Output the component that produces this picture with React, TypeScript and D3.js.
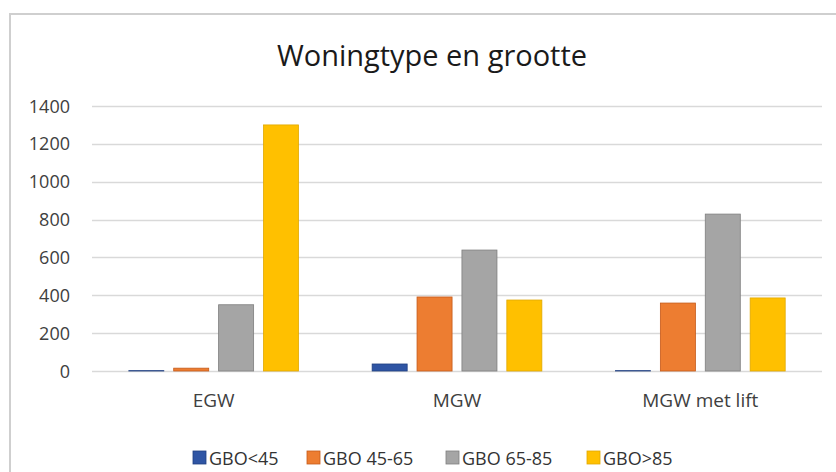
import React, { useEffect, useRef } from "react";
import * as d3 from "d3";

// categorieën en reeksen
const categories = ["EGW", "MGW", "MGW met lift"];
const seriesNames = ["GBO<45", "GBO 45-65", "GBO 65-85", "GBO>85"];
const gbo45 = [2, 37, 2];
const gbo4565 = [15, 391, 359];
const gbo6585 = [350, 639, 829];
const gbo85 = [1300, 375, 386];
const yTicks = [0, 200, 400, 600, 800, 1000, 1200, 1400];

const colors = ["#2f55a4", "#ed7d31", "#a5a5a5", "#ffc000"];
const strokes = ["#1f3f80", "#c55a1a", "#7f7f7f", "#e0a800"];

const W = 836;
const H = 472;
const margin = { top: 106, right: 14, bottom: 101, left: 92 };

const App = () => {
    const ref = useRef<SVGSVGElement | null>(null);

    useEffect(() => {
        const svg = d3.select(ref.current);
        svg.selectAll("*").remove();

        const font = "'Open Sans', sans-serif";
        const values = [gbo45, gbo4565, gbo6585, gbo85];

        // rand van de grafiek
        svg.append("rect")
            .attr("x", 10)
            .attr("y", 14)
            .attr("width", W + 10)
            .attr("height", H + 10)
            .attr("fill", "#fff")
            .attr("stroke", "#cfcfcf")
            .attr("stroke-width", 2);

        svg.append("text")
            .attr("x", 432)
            .attr("y", 66)
            .attr("text-anchor", "middle")
            .attr("font-family", font)
            .attr("font-size", 30)
            .attr("textLength", 310)
            .attr("lengthAdjust", "spacingAndGlyphs")
            .attr("fill", "#1a1a1a")
            .text("Woningtype en grootte");

        const x0 = d3
            .scaleBand()
            .domain(categories)
            .range([margin.left, W - margin.right]);
        const x1 = d3
            .scaleBand()
            .domain(seriesNames)
            .range([0, x0.bandwidth()])
            .paddingInner(0.22)
            .paddingOuter(0.82);
        const y = d3
            .scaleLinear()
            .domain([0, 1400])
            .range([H - margin.bottom, margin.top]);

        // rasterlijnen
        svg.append("g")
            .selectAll("line")
            .data(yTicks)
            .join("line")
            .attr("x1", margin.left)
            .attr("x2", W - margin.right)
            .attr("y1", (d) => Math.round(y(d)) + 0.5)
            .attr("y2", (d) => Math.round(y(d)) + 0.5)
            .attr("stroke", "#d9d9d9")
            .attr("stroke-width", 1.5);

        svg.append("g")
            .selectAll("text")
            .data(yTicks)
            .join("text")
            .attr("x", 70)
            .attr("y", (d) => y(d) + 6.5)
            .attr("text-anchor", "end")
            .attr("font-family", font)
            .attr("font-size", 18)
            .attr("fill", "#404040")
            .text((d) => d);

        // staven
        seriesNames.forEach((s, si) => {
            svg.append("g")
                .selectAll("rect")
                .data(values[si])
                .join("rect")
                .attr("x", (d, i) => x0(categories[i])! + x1(s)!)
                .attr("y", (d) => y(d))
                .attr("width", x1.bandwidth())
                .attr("height", (d) => y(0) - y(d))
                .attr("fill", colors[si])
                .attr("stroke", strokes[si])
                .attr("stroke-width", 0.8);
        });

        svg.append("g")
            .selectAll("text")
            .data(categories)
            .join("text")
            .attr("x", (d) => x0(d)! + x0.bandwidth() / 2)
            .attr("y", 407)
            .attr("text-anchor", "middle")
            .attr("font-family", font)
            .attr("font-size", 19)
            .attr("fill", "#404040")
            .text((d) => d);

        // legenda
        const legendX = [193, 307, 446, 587];
        const lg = svg
            .append("g")
            .selectAll("g")
            .data(seriesNames)
            .join("g")
            .attr("transform", (d, i) => `translate(${legendX[i]},451)`);
        lg.append("rect")
            .attr("width", 13)
            .attr("height", 13)
            .attr("fill", (d, i) => colors[i])
            .attr("stroke", (d, i) => strokes[i])
            .attr("stroke-width", 0.8);
        lg.append("text")
            .attr("x", 16)
            .attr("y", 14)
            .attr("font-family", font)
            .attr("font-size", 18)
            .attr("fill", "#333")
            .text((d) => d);
    }, []);

    return (
        <svg
            ref={ref}
            width={W}
            height={H}
            style={{ position: "absolute", left: 0, top: 0 }}
        />
    );
};

export default App;
